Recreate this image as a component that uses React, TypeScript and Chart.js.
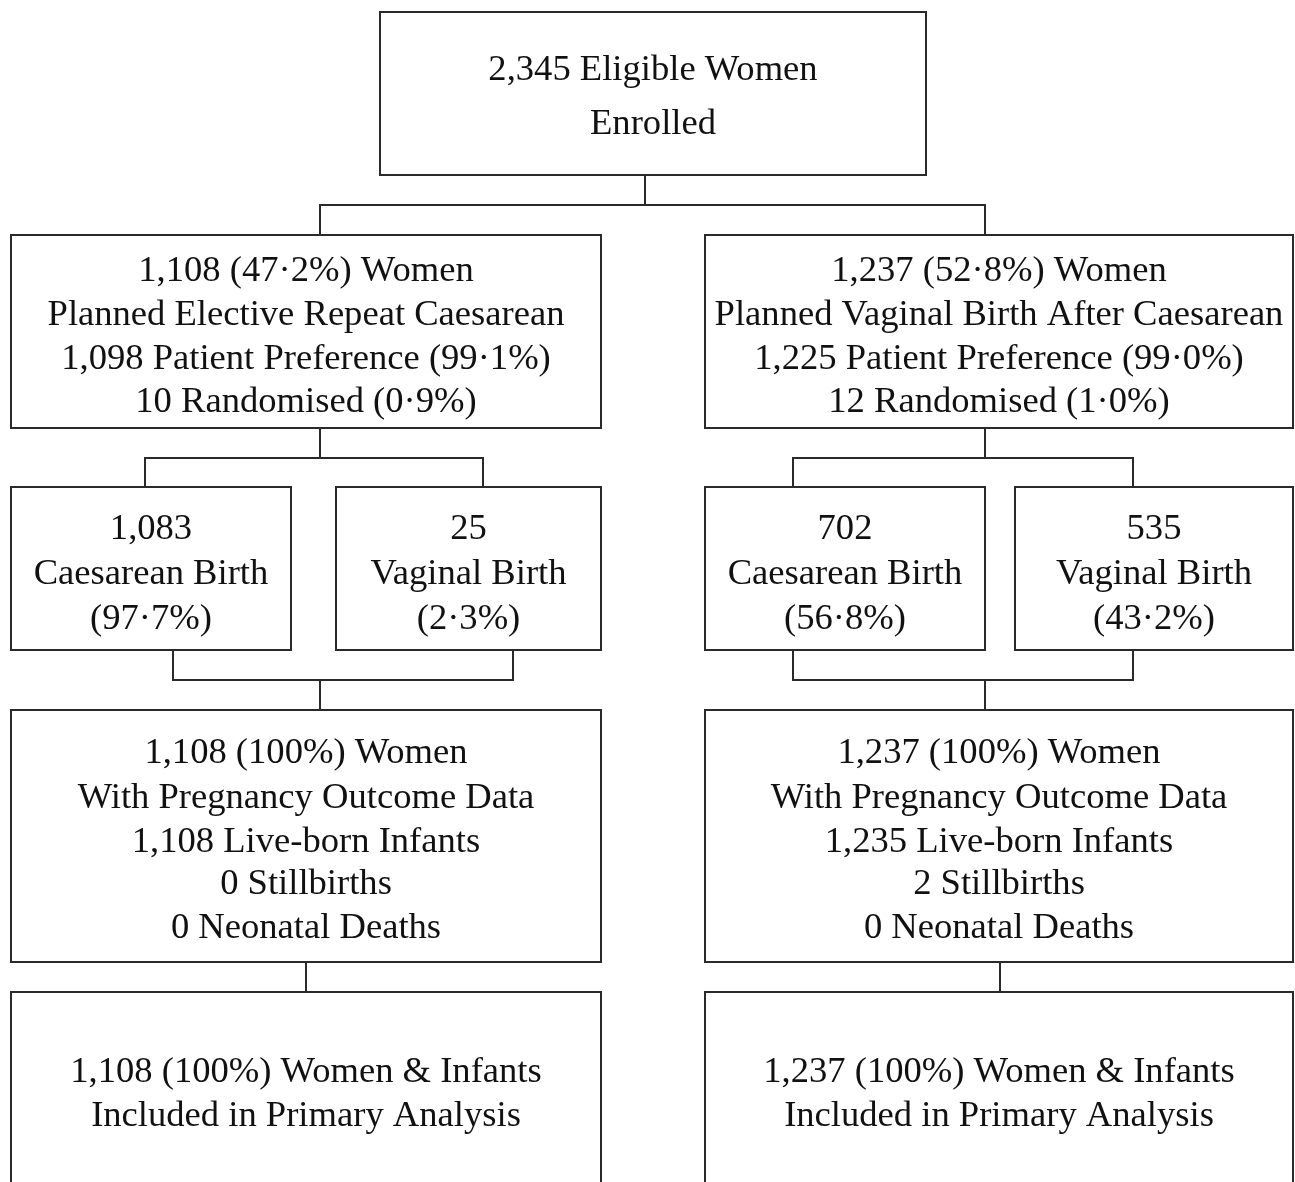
import React, { useEffect, useRef } from "react";
import { Chart, registerables } from "chart.js";

Chart.register(...registerables);

// Text content of each box (top to bottom, left to right)
const topLines = ["2,345 Eligible Women", "Enrolled"];
const armLeftLines = [
  "1,108 (47·2%) Women",
  "Planned Elective Repeat Caesarean",
  "1,098 Patient Preference (99·1%)",
  "10 Randomised (0·9%)",
];
const armRightLines = [
  "1,237 (52·8%) Women",
  "Planned Vaginal Birth After Caesarean",
  "1,225 Patient Preference (99·0%)",
  "12 Randomised (1·0%)",
];
const birthLines = [
  ["1,083", "Caesarean Birth", "(97·7%)"],
  ["25", "Vaginal Birth", "(2·3%)"],
  ["702", "Caesarean Birth", "(56·8%)"],
  ["535", "Vaginal Birth", "(43·2%)"],
];
const outcomeLeftLines = [
  "1,108 (100%) Women",
  "With Pregnancy Outcome Data",
  "1,108 Live-born Infants",
  "0 Stillbirths",
  "0 Neonatal Deaths",
];
const outcomeRightLines = [
  "1,237 (100%) Women",
  "With Pregnancy Outcome Data",
  "1,235 Live-born Infants",
  "2 Stillbirths",
  "0 Neonatal Deaths",
];
const analysisLeftLines = ["1,108 (100%) Women & Infants", "Included in Primary Analysis"];
const analysisRightLines = ["1,237 (100%) Women & Infants", "Included in Primary Analysis"];

// Layout in scale units: [x1, y1, x2, y2], text line y positions
const boxRects = [
  { r: [380, 12, 926, 175], ys: [68, 122], lines: topLines },
  { r: [11, 235, 601, 428], ys: [269, 313, 357, 400], lines: armLeftLines },
  { r: [705, 235, 1293, 428], ys: [269, 313, 357, 400], lines: armRightLines },
  { r: [11, 487, 291, 650], ys: [527, 572, 617], lines: birthLines[0] },
  { r: [336, 487, 601, 650], ys: [527, 572, 617], lines: birthLines[1] },
  { r: [705, 487, 985, 650], ys: [527, 572, 617], lines: birthLines[2] },
  { r: [1015, 487, 1293, 650], ys: [527, 572, 617], lines: birthLines[3] },
  { r: [11, 710, 601, 962], ys: [751, 796, 840, 882, 926], lines: outcomeLeftLines },
  { r: [705, 710, 1293, 962], ys: [751, 796, 840, 882, 926], lines: outcomeRightLines },
  { r: [11, 992, 601, 1200], ys: [1070, 1114], lines: analysisLeftLines },
  { r: [705, 992, 1293, 1200], ys: [1070, 1114], lines: analysisRightLines },
];

// Connector polylines
const connectors: number[][][] = [
  [[645, 175], [645, 205]],
  [[320, 235], [320, 205], [985, 205], [985, 235]],
  [[320, 428], [320, 458]],
  [[145, 487], [145, 458], [483, 458], [483, 487]],
  [[985, 428], [985, 458]],
  [[793, 487], [793, 458], [1133, 458], [1133, 487]],
  [[173, 650], [173, 680], [513, 680], [513, 650]],
  [[320, 680], [320, 710]],
  [[793, 650], [793, 680], [1133, 680], [1133, 650]],
  [[985, 680], [985, 710]],
  [[306, 962], [306, 992]],
  [[1000, 962], [1000, 992]],
];

const flowPlugin = {
  id: "flow",
  afterDatasetsDraw(chart: any) {
    const { ctx, scales } = chart;
    const xs = scales.x;
    const ys = scales.y;
    const px = (v: number) => xs.getPixelForValue(v);
    const py = (v: number) => ys.getPixelForValue(v);
    ctx.save();
    ctx.strokeStyle = "#2a2a2a";
    ctx.lineWidth = 2;
    connectors.forEach((pts) => {
      ctx.beginPath();
      pts.forEach(([x, y], i) => {
        if (i === 0) ctx.moveTo(px(x), py(y));
        else ctx.lineTo(px(x), py(y));
      });
      ctx.stroke();
    });
    ctx.fillStyle = "#111";
    ctx.font = '36.6px "Liberation Serif", "Times New Roman", serif';
    ctx.textAlign = "center";
    ctx.textBaseline = "middle";
    boxRects.forEach((b) => {
      const [x1, y1, x2, y2] = b.r;
      ctx.strokeRect(px(x1), py(y1), px(x2) - px(x1), py(y2) - py(y1));
      const cx = (px(x1) + px(x2)) / 2;
      b.lines.forEach((t, i) => {
        ctx.fillText(t, cx, py(b.ys[i] + 2.5));
      });
    });
    ctx.restore();
  },
};

export default function App() {
  const ref = useRef<HTMLCanvasElement>(null);
  useEffect(() => {
    document.body.style.margin = "0";
    const chart = new Chart(ref.current!, {
      type: "scatter",
      data: {
        datasets: [
          {
            data: boxRects.map((b) => ({ x: (b.r[0] + b.r[2]) / 2, y: (b.r[1] + b.r[3]) / 2 })),
            pointRadius: 0,
          },
        ],
      },
      options: {
        responsive: false,
        animation: false,
        layout: { padding: 0 },
        plugins: { legend: { display: false }, tooltip: { enabled: false } },
        scales: {
          x: { type: "linear", min: 0, max: 1295, display: false },
          y: { type: "linear", min: 0, max: 1182, reverse: true, display: false },
        },
      },
      plugins: [flowPlugin],
    });
    return () => chart.destroy();
  }, []);
  return (
    <div style={{ background: "#fff", width: 1295, height: 1182 }}>
      <canvas ref={ref} width={1295} height={1182} />
    </div>
  );
}
